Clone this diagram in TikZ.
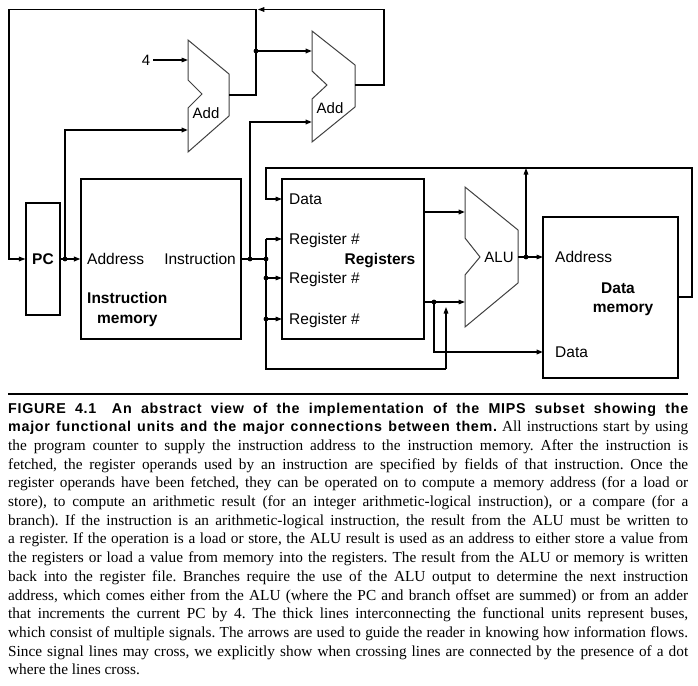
\documentclass[tikz,border=0pt]{standalone}
\usepackage{fontspec}
\setmainfont{Liberation Serif}
\newfontfamily\diagfont{Liberation Sans}
\newfontfamily\headfont{Liberation Sans}[LetterSpace=5.0]
\usetikzlibrary{arrows.meta}

\begin{document}
\frenchspacing
\begin{tikzpicture}[x=1pt,y=-1pt,
  wire/.style={line width=1.1pt},
  bus/.style={line width=1.9pt},
  tip/.style={-{Triangle[length=6.5pt,width=4.6pt]}},
  unit/.style={draw, line width=1.1pt, inner sep=0pt},
  alushape/.style={draw=black!75, line width=1pt, line join=miter},
  lbl/.style={font=\diagfont\fontsize{15.5}{18}\selectfont, inner sep=0pt, anchor=base west},
  blbl/.style={font=\diagfont\bfseries\fontsize{15.5}{18}\selectfont, inner sep=0pt, anchor=base west},
  slbl/.style={font=\diagfont\fontsize{15}{18}\selectfont, inner sep=0pt},
  dot/.style={fill=black},
]
\useasboundingbox (0,0) rectangle (698,685);

% ---------- functional units ----------
\node[unit, minimum width=34pt, minimum height=112pt,
      font=\diagfont\bfseries\fontsize{15.5}{18}\selectfont] (pc) at (43,259) {PC};
\node[unit, minimum width=160pt, minimum height=160pt] (imem) at (161,259) {};
\node[unit, minimum width=142pt, minimum height=160pt] (regs) at (353,259) {};
\node[unit, minimum width=135pt, minimum height=161pt] (dmem) at (610.5,297.5) {};

% adders and ALU
\draw[alushape] (188,40) -- (229,74) -- (229,116) -- (188,152) -- (188,108) -- (202,94) -- (188,80) -- cycle;
\draw[alushape] (312,31) -- (355,65) -- (355,107) -- (312,142) -- (312,99) -- (327,85) -- (312,71) -- cycle;
\draw[alushape] (465,187) -- (518,230) -- (518,283) -- (465,327) -- (465,275) -- (480,257) -- (465,238) -- cycle;
\node[slbl] (add1lbl) at (206,113) {Add};
\node[slbl] (add2lbl) at (330,108) {Add};
\node[slbl] (alulbl) at (499,257) {ALU};
\node[slbl] (four) at (146,60) {4};

% ---------- unit labels ----------
\node[lbl] (imaddr) at (87,264.5) {Address};
\node[lbl, anchor=base east] (iminst) at (236,264.5) {Instruction};
\node[blbl] (imname1) at (87,303) {Instruction};
\node[blbl] (imname2) at (97,323) {memory};

\node[lbl] (rdata) at (289,204.5) {Data};
\node[lbl] (rreg1) at (289,244.5) {Register \#};
\node[lbl] (rreg2) at (289,283.5) {Register \#};
\node[lbl] (rreg3) at (289,324.5) {Register \#};
\node[blbl, anchor=base] (rname) at (380,264.5) {Registers};

\node[lbl] (dmaddr) at (555,262) {Address};
\node[lbl] (dmdata) at (555,357) {Data};
\node[blbl, anchor=base] (dmname1) at (618,293) {Data};
\node[blbl, anchor=base] (dmname2) at (623,312) {memory};

% ---------- ports and junctions ----------
\coordinate (add1a) at (188,60);
\coordinate (add1b) at (188,130);
\coordinate (add1o) at (229,95);
\coordinate (add2a) at (312,51);
\coordinate (add2b) at (312,122);
\coordinate (add2o) at (355,85);
\coordinate (alua) at (465,212);
\coordinate (alub) at (465,302);
\coordinate (aluo) at (518,257);
\coordinate (rd) at (282,199);
\coordinate (r1) at (282,239);
\coordinate (r2) at (282,278);
\coordinate (r3) at (282,319);
\coordinate (ro1) at (424,212);
\coordinate (ro2) at (424,302);
\coordinate (dma) at (543,257);
\coordinate (dmd) at (543,352);
\coordinate (dmo) at (678,297);
\coordinate (topj) at (256,9.5);
\coordinate (j1) at (65,259);
\coordinate (j2) at (256,51);
\coordinate (j3) at (250,259);
\coordinate (j4) at (266,259);
\coordinate (j5) at (266,278);
\coordinate (j6) at (266,319);
\coordinate (j7) at (434,302);
\coordinate (j8) at (526,257);
\coordinate (wbtop) at (526,168);
\coordinate (immup) at (446,307);

% ---------- next-PC logic ----------
\draw[wire,tip] (four.east) ++(3,0) -- (add1a);
\draw[bus,tip] (j1) -- (65,130) -- (add1b);
\draw[bus] (add1o) -- (256,95) -- (topj);
\draw[bus,tip] (j2) -- (add2a);
\draw[bus,tip] (j3) -- (250,122) -- (add2b);
\draw[wire,tip] (add2o) -- (384,85) -- (384,9.5) -- (257.8,9.5);
\draw[wire,tip] (topj) -- (9,9.5) -- (9,259) -- (pc.west);

% ---------- fetch ----------
\draw[bus] (pc.east) -- (j1);
\draw[bus,tip] (j1) -- (imem.west);
\draw[bus] (imem.east) -- (j3) -- (j4);

% ---------- register file ----------
\draw[bus] (266,239) -- (266,369) -- (446,369);
\draw[wire,tip] (446,369) -- (immup);
\draw[wire,tip] (266,239) -- (r1);
\draw[wire,tip] (j5) -- (r2);
\draw[wire,tip] (j6) -- (r3);
\draw[wire,tip] (dmo) -- (692,297) -- (692,168) -- (266,168) -- (266,199) -- (rd);

% ---------- execute and memory ----------
\draw[bus,tip] (ro1) -- (alua);
\draw[wire] (ro2) -- (j7);
\draw[wire,tip] (j7) -- (alub);
\draw[bus,tip] (j7) -- (434,352) -- (dmd);
\draw[wire] (aluo) -- (j8);
\draw[wire,tip] (j8) -- (dma);
\draw[wire,tip] (j8) -- (wbtop);

% connection dots
\foreach \j in {j1,j2,j3,j4,j5,j6,j7,j8}
  \fill[dot] (\j) circle (2.4pt);

% ---------- caption ----------
\draw[line width=1.4pt] (8,394) -- (688,394);
\node[anchor=base west, inner sep=0pt, text width=680pt, align=justify,
      font=\fontsize{15.3}{18.7}\selectfont] (caption) at (8,413)
{\tolerance=10000\hyphenpenalty=10000\exhyphenpenalty=10000\frenchspacing%
{\headfont\bfseries\fontsize{14.3}{18.7}\selectfont FIGURE 4.1\hspace{0.45em} An abstract view of the implementation of the MIPS subset showing the\linebreak
major functional units and the major connections between them.} All instructions start by using\linebreak
the program counter to supply the instruction address to the instruction memory. After the instruction is\linebreak
fetched, the register operands used by an instruction are specified by fields of that instruction. Once the\linebreak
register operands have been fetched, they can be operated on to compute a memory address (for a load or\linebreak
store), to compute an arithmetic result (for an integer arithmetic-logical instruction), or a compare (for a\linebreak
branch). If the instruction is an arithmetic-logical instruction, the result from the ALU must be written to\linebreak
a register. If the operation is a load or store, the ALU result is used as an address to either store a value from\linebreak
the registers or load a value from memory into the registers. The result from the ALU or memory is written\linebreak
back into the register file. Branches require the use of the ALU output to determine the next instruction\linebreak
address, which comes either from the ALU (where the PC and branch offset are summed) or from an adder\linebreak
that increments the current PC by 4. The thick lines interconnecting the functional units represent buses,\linebreak
which consist of multiple signals. The arrows are used to guide the reader in knowing how information flows.\linebreak
Since signal lines may cross, we explicitly show when crossing lines are connected by the presence of a dot\linebreak
where the lines cross.};
\end{tikzpicture}
\end{document}
